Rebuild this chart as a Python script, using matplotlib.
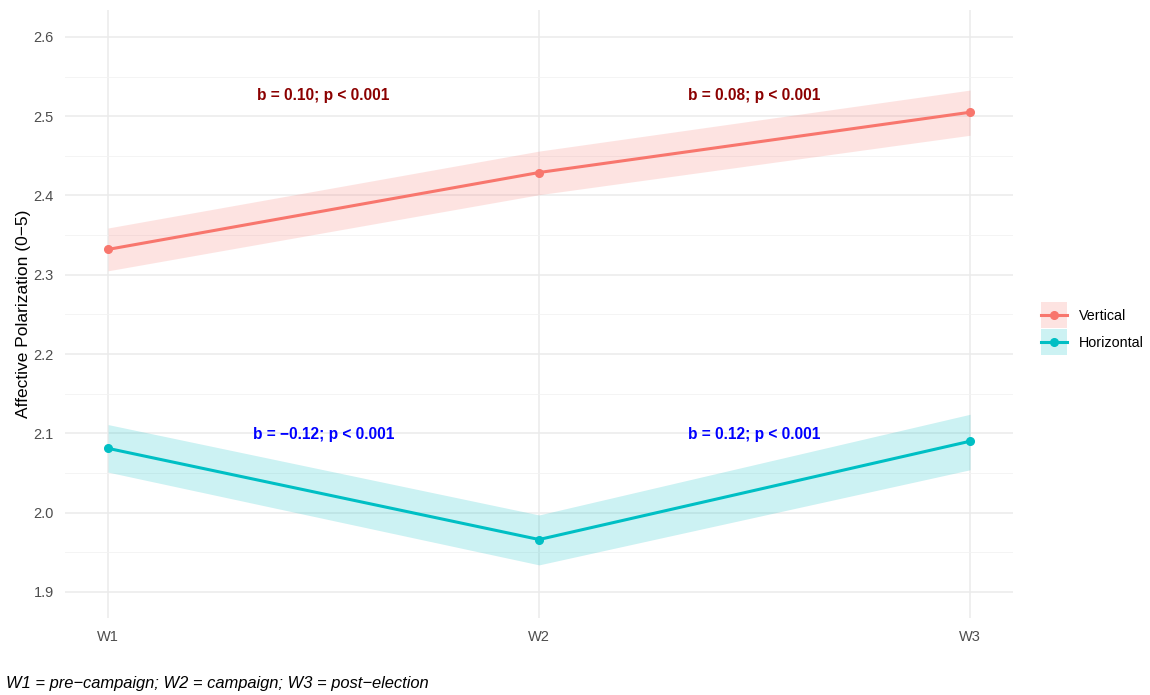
import matplotlib
matplotlib.use("Agg")
import matplotlib.pyplot as plt
from matplotlib.patches import Patch
from matplotlib.lines import Line2D
from matplotlib.legend_handler import HandlerTuple, HandlerLine2D

plt.rcParams['font.family'] = ['Liberation Sans', 'DejaVu Sans']

# waves and predicted means with 95% bands
waves = ["W1", "W2", "W3"]
wave_pos = [1, 2, 3]

vertical_mean = [2.332, 2.429, 2.505]
vertical_lo = [2.305, 2.401, 2.476]
vertical_hi = [2.359, 2.456, 2.533]

horizontal_mean = [2.081, 1.966, 2.090]
horizontal_lo = [2.051, 1.934, 2.054]
horizontal_hi = [2.111, 1.997, 2.124]

# slope labels between waves
vertical_notes = ["b = 0.10; p < 0.001", "b = 0.08; p < 0.001"]
horizontal_notes = ["b = \u22120.12; p < 0.001", "b = 0.12; p < 0.001"]
note_x = [1.5, 2.5]
vertical_note_y = 2.526
horizontal_note_y = 2.098

red = "#F8766D"
teal = "#00BFC4"


class CenteredLine(HandlerLine2D):
    # put the legend line in the middle of the fill box
    def create_artists(self, legend, orig_handle, xdescent, ydescent,
                       width, height, fontsize, trans):
        return super().create_artists(legend, orig_handle, xdescent, 2 * ydescent,
                                      width, height, fontsize, trans)


fig = plt.figure(figsize=(11.5, 6.95), dpi=100)
ax = fig.add_axes([0.0565, 0.1108, 0.8245, 0.8748])

for lo, hi, mean, col in [(vertical_lo, vertical_hi, vertical_mean, red),
                          (horizontal_lo, horizontal_hi, horizontal_mean, teal)]:
    ax.fill_between(wave_pos, lo, hi, color=col, alpha=0.2, linewidth=0, zorder=2)
    ax.plot(wave_pos, mean, color=col, linewidth=2.2, marker="o", markersize=5.5,
            solid_capstyle="butt", zorder=3)

for x, t in zip(note_x, vertical_notes):
    ax.text(x, vertical_note_y, t, color="#8B0000", fontsize=11.2, fontweight="bold",
            ha="center", va="center", zorder=4)
for x, t in zip(note_x, horizontal_notes):
    ax.text(x, horizontal_note_y, t, color="#0000FF", fontsize=11.2, fontweight="bold",
            ha="center", va="center", zorder=4)

ax.set_xlim(0.9, 3.1)
ax.set_ylim(1.867, 2.634)
ax.set_xticks(wave_pos)
ax.set_xticklabels(waves)
ax.set_yticks([1.9, 2.0, 2.1, 2.2, 2.3, 2.4, 2.5, 2.6])
ax.set_yticks([1.95, 2.05, 2.15, 2.25, 2.35, 2.45, 2.55], minor=True)
ax.set_yticklabels(["1.9", "2.0", "2.1", "2.2", "2.3", "2.4", "2.5", "2.6"])

ax.grid(which="major", color="#EBEBEB", linewidth=1.1, zorder=0)
ax.grid(which="minor", axis="y", color="#F2F2F2", linewidth=0.6, zorder=0)
ax.set_axisbelow(True)
for s in ax.spines.values():
    s.set_visible(False)
ax.tick_params(which="both", length=0, labelsize=10.5, labelcolor="#4D4D4D")
ax.tick_params(axis="x", pad=9)
ax.tick_params(axis="y", pad=8)

ax.set_ylabel("Affective Polarization (0\u22125)", fontsize=12.5, color="black", labelpad=2)

# legend keys: ribbon fill with the line and point drawn over it
handles = [
    (Patch(facecolor=red, alpha=0.2, edgecolor="none"),
     Line2D([], [], color=red, linewidth=2.2, marker="o", markersize=5.5)),
    (Patch(facecolor=teal, alpha=0.2, edgecolor="none"),
     Line2D([], [], color=teal, linewidth=2.2, marker="o", markersize=5.5)),
]
fig.legend(handles, ["Vertical", "Horizontal"],
           handler_map={tuple: HandlerTuple(ndivide=1, pad=0), Line2D: CenteredLine()},
           loc="center left", bbox_to_anchor=(0.905, 0.527), frameon=False,
           fontsize=10.3, handlelength=1.8, handleheight=2.4, handletextpad=0.85,
           labelspacing=0.07, borderpad=0, borderaxespad=0)

fig.text(0.005, 0.006, "W1 = pre\u2212campaign; W2 = campaign; W3 = post\u2212election",
         fontsize=11.9, style="italic", ha="left", va="bottom")

fig.savefig("out.png", dpi=100, facecolor="white")
